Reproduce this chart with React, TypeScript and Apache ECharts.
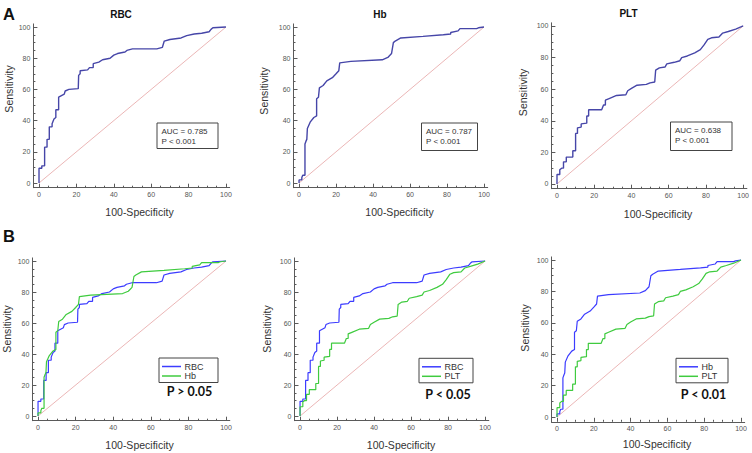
import { useEffect, useRef } from 'react';
import * as echarts from 'echarts';

// ---------- data ----------
const majorTicks = [0, 20, 40, 60, 80, 100];
const minorTicks = [5, 10, 15, 25, 30, 35, 45, 50, 55, 65, 70, 75, 85, 90, 95];

// ROC curves: [100-Specificity, Sensitivity]
const rbcRoc: number[][] = [
  [0, 0], [0, 9.5], [1.5, 9.5], [1.5, 11], [3, 11], [3, 23], [4.3, 23], [4.3, 28], [5.5, 28], [5.5, 36],
  [7, 36], [7, 38], [8, 41], [9, 42], [9, 47], [10.5, 47], [10.5, 55], [12, 56], [13.5, 57], [14, 59],
  [16, 60], [21, 60.5], [21.2, 69], [22, 70], [22, 72], [26, 72.5], [27, 74], [29, 74], [29, 76.5],
  [32, 77.5], [34, 79], [38, 80], [40, 82], [42, 83], [46, 84], [47, 85], [50, 86], [63, 86], [66, 87],
  [67, 91], [70, 92], [76, 93], [79, 94.5], [83, 95.5], [87, 96], [91, 97], [92, 98.5], [93, 99.5], [100, 100],
];
const hbRoc: number[][] = [
  [0, 0], [0, 2], [1.5, 2], [1.5, 3.5], [2, 5], [3.2, 5], [3.2, 25], [3.8, 27], [4.2, 28], [4.5, 35],
  [6, 39], [8, 42], [9.5, 43], [9.5, 54], [10.5, 55], [11, 61], [13, 62.5], [15, 65.5], [18, 67.5],
  [20, 70], [21.5, 72], [22, 77], [28, 78], [45, 79], [48, 80.5], [50, 83], [51, 90], [52, 91], [55, 93],
  [67, 94], [78, 95], [82, 95.5], [82, 96.5], [86, 97.5], [87, 99], [96, 99], [97, 99.5], [100, 100],
];
const pltRoc: number[][] = [
  [0, 0], [0, 6], [1.5, 6], [1.5, 9], [2.5, 10], [3.5, 10], [3.5, 14], [5, 14], [5, 17], [8.5, 17],
  [8.5, 21], [10, 21], [10, 32], [11, 32], [11, 35.5], [13, 36], [13, 38], [16, 38.5], [16, 43], [17, 43],
  [17, 47], [24, 47], [25, 50], [26, 50], [26, 53], [28, 54], [32, 56], [37, 56.5], [38, 59], [40, 60.5],
  [43, 62.5], [48, 63], [50, 64], [52.5, 64.5], [53, 72], [55, 73.5], [58, 74], [59, 76], [63, 77],
  [66, 78], [67, 80], [70, 81], [74, 83], [77, 85], [79, 88], [81, 91.5], [83, 92.5], [87, 93],
  [89, 95.5], [92, 96.5], [96, 98], [100, 100],
];
const diagonal: number[][] = [[0, 0], [100, 100]];

const markerNames = ['RBC', 'Hb', 'PLT'];
const aucValues = ['0.785', '0.787', '0.638'];
const aucP = ['P < 0.001', 'P < 0.001', 'P < 0.001'];
const comparisonPairs = [['RBC', 'Hb'], ['RBC', 'PLT'], ['Hb', 'PLT']];
const comparisonP = ['P > 0.05', 'P < 0.05', 'P < 0.01'];
const panelLetters = ['A', 'B'];

const curves: Record<string, number[][]> = { RBC: rbcRoc, Hb: hbRoc, PLT: pltRoc };

// ---------- layout / style ----------
const gridRects = [
  { left: 33.4, top: 23.9, width: 196.3, height: 163.8 },
  { left: 293.5, top: 23.9, width: 194.2, height: 163.8 },
  { left: 551.4, top: 22.8, width: 197.4, height: 165.9 },
  { left: 32.4, top: 257.9, width: 197.4, height: 162.8 },
  { left: 294.5, top: 257.9, width: 194.3, height: 162.8 },
  { left: 551.5, top: 256.9, width: 193.2, height: 164.9 },
];
const yNamePos = [[9, 89], [264, 91], [522.5, 92.5], [7, 329], [267, 329], [525, 328]];
const xNamePos = [[139.5, 212], [399.5, 212], [658, 213.5], [139.5, 445], [401, 445], [657, 444]];
const titlePos = [[121, 14], [380, 14.5], [628.5, 13.5]];
const letterPos = [[3, 13.5], [3, 235.5]];
const aucBoxPos = [[157, 123, 61, 25.5], [421.5, 123, 56, 27.5], [670.5, 122, 61.5, 28.5]];
const legendBoxPos = [[159, 358, 59, 24.5], [419, 358.3, 54, 24.5], [676, 358.3, 52, 24.5]];
const pTextPos = [[189.5, 391], [448, 394], [703.5, 394]];

const SANS = '"Liberation Sans", Arial, sans-serif';
const axisColor = '#5a5a5a';
const topColor = '#4646a8';
const blueColor = '#3c3cff';
const greenColor = '#3fcb3f';
const diagColor = '#e6a3a3';

function buildOption() {
  const grid: any[] = [];
  const xAxis: any[] = [];
  const yAxis: any[] = [];
  const series: any[] = [];
  const graphic: any[] = [];

  gridRects.forEach((r, i) => {
    grid.push({ ...r, containLabel: false });
    const base = { gridIndex: i, type: 'value', min: -3, max: 102, splitLine: { show: false } };
    xAxis.push({
      ...base, position: 'bottom',
      axisLine: { show: true, onZero: false, lineStyle: { color: axisColor, width: 1 } },
      axisTick: { show: true, inside: true, length: 4, customValues: majorTicks, lineStyle: { color: axisColor } },
      axisLabel: { customValues: majorTicks, fontSize: 7, color: '#555', margin: 3, fontFamily: SANS },
    });
    xAxis.push({
      ...base, position: 'bottom',
      axisLine: { show: false, onZero: false },
      axisTick: { show: true, inside: true, length: 2, customValues: minorTicks, lineStyle: { color: axisColor } },
      axisLabel: { show: false },
    });
    yAxis.push({
      ...base, position: 'left',
      axisLine: { show: true, onZero: false, lineStyle: { color: axisColor, width: 1 } },
      axisTick: { show: true, inside: true, length: 4, customValues: majorTicks, lineStyle: { color: axisColor } },
      axisLabel: { customValues: majorTicks, fontSize: 7, color: '#555', margin: 3, fontFamily: SANS },
    });
    yAxis.push({
      ...base, position: 'left',
      axisLine: { show: false, onZero: false },
      axisTick: { show: true, inside: true, length: 2, customValues: minorTicks, lineStyle: { color: axisColor } },
      axisLabel: { show: false },
    });

    const ax = { xAxisIndex: 2 * i, yAxisIndex: 2 * i };
    series.push({
      type: 'line', ...ax, name: 'Reference', data: diagonal, showSymbol: false, silent: true,
      lineStyle: { color: diagColor, width: 0.8 }, z: 1,
    });
    if (i < 3) {
      const nm = markerNames[i];
      series.push({
        type: 'line', ...ax, name: nm, data: curves[nm], showSymbol: false,
        lineStyle: { color: topColor, width: 1.4 }, z: 3,
      });
    } else {
      const [a, b] = comparisonPairs[i - 3];
      series.push({
        type: 'line', ...ax, name: a, data: curves[a], showSymbol: false,
        lineStyle: { color: blueColor, width: 1.2 }, z: 3,
      });
      series.push({
        type: 'line', ...ax, name: b, data: curves[b], showSymbol: false,
        lineStyle: { color: greenColor, width: 1.2 }, z: 4,
      });
    }

    // axis names
    graphic.push({
      type: 'text', x: yNamePos[i][0], y: yNamePos[i][1], rotation: Math.PI / 2,
      style: { text: 'Sensitivity', fontSize: 10.5, fontFamily: SANS, fill: '#333', align: 'center', verticalAlign: 'middle' },
    });
    graphic.push({
      type: 'text', x: xNamePos[i][0], y: xNamePos[i][1],
      style: { text: '100-Specificity', fontSize: 10.5, fontFamily: SANS, fill: '#333', align: 'center', verticalAlign: 'middle' },
    });
  });

  // panel letters
  panelLetters.forEach((l, k) => {
    graphic.push({
      type: 'text', x: letterPos[k][0], y: letterPos[k][1],
      style: { text: l, fontSize: 16.5, fontWeight: 'bold', fontFamily: SANS, fill: '#111', align: 'left', verticalAlign: 'middle' },
    });
  });

  // titles and AUC boxes for top row
  markerNames.forEach((nm, i) => {
    graphic.push({
      type: 'text', x: titlePos[i][0], y: titlePos[i][1],
      style: { text: nm, fontSize: 10, fontWeight: 'bold', fontFamily: SANS, fill: '#111', align: 'center', verticalAlign: 'middle' },
    });
    const [bx, by, bw, bh] = aucBoxPos[i];
    graphic.push({
      type: 'rect', shape: { x: bx, y: by, width: bw, height: bh },
      style: { fill: '#fff', stroke: '#444', lineWidth: 1 }, z: 10,
    });
    graphic.push({
      type: 'text', x: bx + 4.5, y: by + 8.5, z: 11,
      style: { text: 'AUC = ' + aucValues[i], fontSize: 8, fontFamily: SANS, fill: '#333', align: 'left', verticalAlign: 'middle' },
    });
    graphic.push({
      type: 'text', x: bx + 4.5, y: by + 18.5, z: 11,
      style: { text: aucP[i], fontSize: 8, fontFamily: SANS, fill: '#333', align: 'left', verticalAlign: 'middle' },
    });
  });

  // legends and P texts for bottom row
  comparisonPairs.forEach((pair, k) => {
    const [bx, by, bw, bh] = legendBoxPos[k];
    graphic.push({
      type: 'rect', shape: { x: bx, y: by, width: bw, height: bh },
      style: { fill: '#fff', stroke: '#444', lineWidth: 1 }, z: 10,
    });
    const colors = [blueColor, greenColor];
    pair.forEach((nm, j) => {
      const ly = by + 8.5 + j * 9.5;
      graphic.push({
        type: 'line', shape: { x1: bx + 3, y1: ly, x2: bx + 22, y2: ly }, z: 11,
        style: { stroke: colors[j], lineWidth: 1.5 },
      });
      graphic.push({
        type: 'text', x: bx + 25.5, y: ly, z: 11,
        style: { text: nm, fontSize: 9, fontFamily: SANS, fill: '#333', align: 'left', verticalAlign: 'middle' },
      });
    });
    graphic.push({
      type: 'text', x: pTextPos[k][0], y: pTextPos[k][1],
      style: { text: comparisonP[k], fontSize: 12.5, fontWeight: 'bold', fontFamily: 'Lato, "Open Sans", sans-serif', fill: '#111', align: 'center', verticalAlign: 'middle' },
    });
  });

  return {
    animation: false,
    backgroundColor: '#ffffff',
    grid, xAxis, yAxis, series, graphic,
  };
}

export default function App() {
  const ref = useRef<HTMLDivElement>(null);
  useEffect(() => {
    if (!ref.current) return;
    const chart = echarts.init(ref.current, null, { renderer: 'svg' });
    chart.setOption(buildOption() as any);
    return () => chart.dispose();
  }, []);
  return (
    <div
      ref={ref}
      style={{ position: 'absolute', left: 0, top: 0, width: 752, height: 453, background: '#fff' }}
    />
  );
}
